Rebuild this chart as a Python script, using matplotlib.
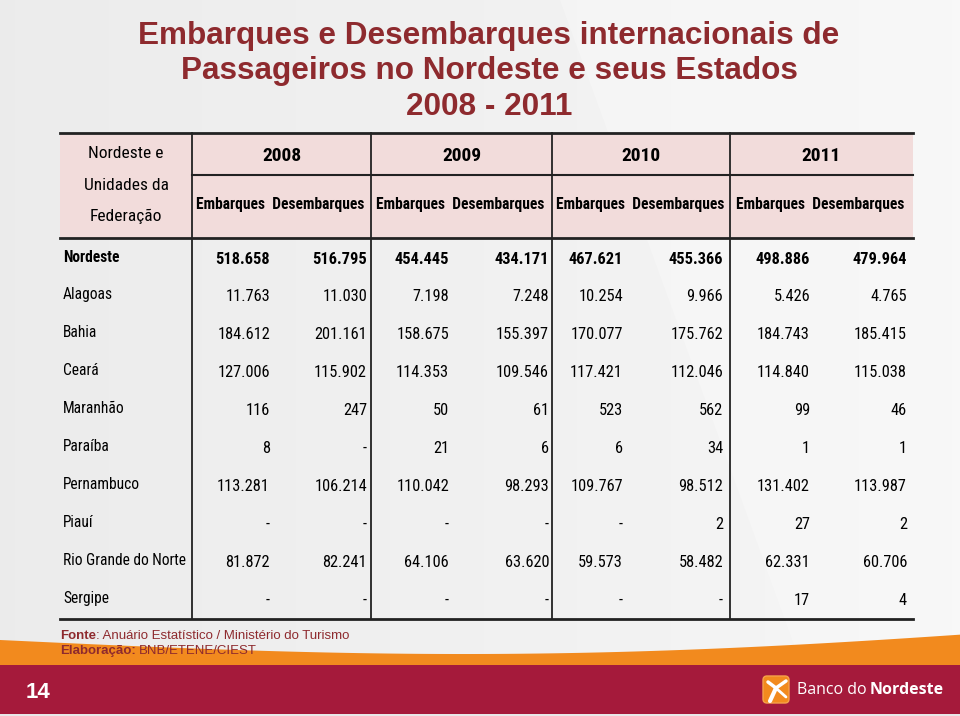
import numpy as np
import matplotlib
matplotlib.use("Agg")
import matplotlib.pyplot as plt
from matplotlib.patches import Rectangle, Polygon, FancyBboxPatch

# ---------------- data ----------------
title_lines = ["Embarques e Desembarques internacionais de",
               "Passageiros no Nordeste e seus Estados",
               "2008 - 2011"]
states = ["Nordeste", "Alagoas", "Bahia", "Ceará", "Maranhão", "Paraíba",
          "Pernambuco", "Piauí", "Rio Grande do Norte", "Sergipe"]
years = ["2008", "2009", "2010", "2011"]
sub_headers = ["Embarques", "Desembarques"]
first_header = ["Nordeste e", "Unidades da", "Federação"]

# None = "-"
emb_2008 = [518658, 11763, 184612, 127006, 116, 8, 113281, None, 81872, None]
des_2008 = [516795, 11030, 201161, 115902, 247, None, 106214, None, 82241, None]
emb_2009 = [454445, 7198, 158675, 114353, 50, 21, 110042, None, 64106, None]
des_2009 = [434171, 7248, 155397, 109546, 61, 6, 98293, None, 63620, None]
emb_2010 = [467621, 10254, 170077, 117421, 523, 6, 109767, None, 59573, None]
des_2010 = [455366, 9966, 175762, 112046, 562, 34, 98512, 2, 58482, None]
emb_2011 = [498886, 5426, 184743, 114840, 99, 1, 131402, 27, 62331, 17]
des_2011 = [479964, 4765, 185415, 115038, 46, 1, 113987, 2, 60706, 4]

columns = [emb_2008, des_2008, emb_2009, des_2009,
           emb_2010, des_2010, emb_2011, des_2011]

fonte = "Anuário Estatístico / Ministério do Turismo"
elaboracao = "BNB/ETENE/CIEST"
page_no = "14"

# ---------------- style ----------------
RED = "#8e2a2e"
CRIMSON = "#a51a3b"
ORANGE = "#f28a1e"
PINK = "#f2dcdb"
NARROW = ["Roboto Condensed", "PT Sans Narrow", "Liberation Sans", "DejaVu Sans"]
SANS = ["Liberation Sans", "DejaVu Sans"]


def fmt(v):
    if v is None:
        return "-"
    return "{:,}".format(v).replace(",", ".")


fig = plt.figure(figsize=(9.6, 7.16), dpi=100)
ax = fig.add_axes([0, 0, 1, 1])
ax.set_xlim(0, 960)
ax.set_ylim(716, 0)
ax.axis("off")
renderer = fig.canvas.get_renderer()


def runs(x, y, parts, gap=0, **kw):
    # draw text pieces one after the other on the same baseline
    for s, weight in parts:
        t = ax.text(x, y, s, fontweight=weight, ha="left", **kw)
        x += t.get_window_extent(renderer).width + gap
    return x


# background
grad = np.linspace(0.925, 0.965, 256).reshape(1, -1)
ax.imshow(np.dstack([grad, grad, grad]), extent=[0, 960, 716, 0], aspect="auto", zorder=0)
ax.add_patch(Polygon([[560, 0], [960, 0], [960, 716], [820, 716]],
                     closed=True, facecolor="white", alpha=0.25, lw=0, zorder=0))

# bottom bands
xs = np.linspace(0, 960, 60)
top = 640 + 20 * np.sin(np.pi * xs / 960 * 0.9) - 0.012 * xs
ax.fill_between(xs, top, 666, color=ORANGE, lw=0, zorder=1)
ax.add_patch(Rectangle((0, 665), 960, 49, facecolor=CRIMSON, lw=0, zorder=2))
ax.add_patch(Rectangle((0, 714), 960, 2, facecolor="#e8e8e8", lw=0, zorder=2))
ax.text(26, 692, page_no, color="white", fontsize=16, fontweight="bold",
        family=SANS, va="center", ha="left", zorder=3)

# logo
ax.add_patch(FancyBboxPatch((764, 677), 24, 25, boxstyle="round,pad=1,rounding_size=4",
                            facecolor=ORANGE, edgecolor="#f6a24a", lw=1, zorder=3))
ax.plot([768, 776, 786], [682, 688, 681], color="white", lw=2.5, zorder=4,
        solid_capstyle="round")
ax.plot([776, 770], [688, 701], color="white", lw=3, zorder=4, solid_capstyle="round")
ax.plot([777, 786], [689, 697], color="white", lw=2, zorder=4, solid_capstyle="round")
runs(797, 690, [("Banco do", "normal"), ("Nordeste", "bold")], gap=3,
     color="white", fontsize=11.5, family=["Open Sans", "DejaVu Sans"],
     va="center", zorder=3)

# title
for i, line in enumerate(title_lines):
    ax.text(489, 36 + i * 35.5, line, color=RED, fontsize=22.7, fontweight="bold",
            family=SANS, ha="center", va="center", zorder=3)

# table geometry
x_left, x_right = 60, 913
x_div = [192, 371, 552, 730]
y_top, y_mid, y_head = 133, 175, 238
y_bottom = 619
row_y = [257 + i * 37.9 for i in range(len(states))]
num_right = [270, 367, 449, 549, 623, 723, 810, 907]

ax.add_patch(Rectangle((x_left, y_top), x_right - x_left, y_head - y_top,
                       facecolor=PINK, lw=0, zorder=2))
ax.plot([x_left, x_right], [y_top, y_top], color="#222222", lw=2, zorder=3)
ax.plot([x_div[0], x_right], [y_mid, y_mid], color="#222222", lw=1.5, zorder=3)
ax.plot([x_left, x_right], [y_head, y_head], color="#222222", lw=2, zorder=3)
ax.plot([x_left, x_right], [y_bottom, y_bottom], color="#222222", lw=2, zorder=3)
for xd in x_div:
    ax.plot([xd, xd], [y_top, y_bottom], color="#222222", lw=1.3, zorder=3)

# header texts
for j, t in enumerate(first_header):
    ax.text(126, 154 + j * 31, t, family=NARROW, fontsize=12.5, ha="center",
            va="center", color="black", zorder=4)

group_bounds = x_div + [x_right]
for g, yr in enumerate(years):
    cx = (group_bounds[g] + group_bounds[g + 1]) / 2
    ax.text(cx, 156, yr, family=NARROW, fontsize=14, fontweight="bold",
            ha="center", va="center", zorder=4)
    ax.text(cx - 1, 205, "  ".join(sub_headers), family=NARROW, fontsize=11.2,
            fontweight="bold", ha="center", va="center", zorder=4)

# body
for i, st in enumerate(states):
    bold = "bold" if i == 0 else "normal"
    ax.text(63, row_y[i], st, family=NARROW, fontsize=11.2, fontweight=bold,
            ha="left", va="center", zorder=4)
    for c, col in enumerate(columns):
        ax.text(num_right[c], row_y[i] + 2, fmt(col[i]), family=NARROW,
                fontsize=11.8, fontweight=bold, ha="right", va="center", zorder=4)

# source
runs(60, 636, [("Fonte", "bold"), (": " + fonte, "normal")], color=RED,
     fontsize=9.5, family=SANS, va="center", zorder=4)
runs(60, 651, [("Elaboração:", "bold"), (elaboracao, "normal")], gap=3,
     color=RED, fontsize=9.5, family=SANS, va="center", zorder=4)

fig.savefig("out.png", dpi=100)
